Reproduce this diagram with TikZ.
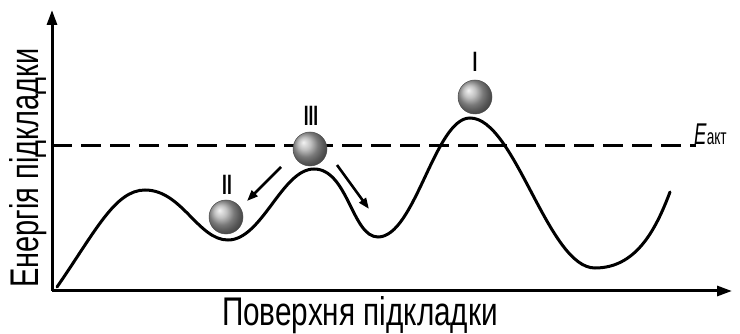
\documentclass[tikz,border=0pt]{standalone}
\usepackage{fontspec}
\setmainfont{Liberation Sans}[FakeStretch=0.62]
\newfontfamily\xlabfont{Liberation Sans}[FakeStretch=0.743]
\newfontfamily\ylabfont{Liberation Sans}[FakeStretch=0.725]
\usetikzlibrary{arrows.meta}
\begin{document}
\begin{tikzpicture}[x=1pt,y=-1pt,
  axis/.style={line width=3pt,-{Triangle[length=15pt,width=10pt]}},
  curve/.style={line width=3pt,line cap=round},
  dashline/.style={line width=3pt,dash pattern=on 20pt off 9pt},
  ball/.style={circle,minimum size=34pt,inner sep=0pt,shading=ball,ball color=gray!65,draw=black!70,line width=0.5pt},
  mv/.style={line width=2.6pt,-{Triangle[length=11pt,width=8pt]}},
  lbl/.style={font=\fontsize{28}{28}\selectfont\bfseries,inner sep=0pt},
  xbig/.style={font=\fontsize{40}{40}\selectfont\xlabfont,inner sep=0pt,anchor=base},
  ybig/.style={font=\fontsize{40}{40}\selectfont\ylabfont,inner sep=0pt,anchor=base,rotate=90}]
\useasboundingbox (0,0) rectangle (740,334);
\coordinate (o) at (52,291);
\coordinate (ytop) at (52,10);
\coordinate (xend) at (732,291);
\draw[axis] (o) -- (ytop);
\draw[axis] (o) -- (xend);
\coordinate (d0) at (52,146);
\coordinate (d1) at (696,146);
\draw[dashline] (d0) -- (d1);
\node[anchor=base west,inner sep=0pt] (eakt) at (694,145) {\fontsize{30}{30}\selectfont\textit{E}\fontsize{22}{22}\selectfont акт};
\draw[curve] (57,287) .. controls (95,232) and (115,190) .. (145,190)
  .. controls (182,190) and (198,240) .. (228,240)
  .. controls (262,240) and (282,169) .. (314,169)
  .. controls (348,169) and (352,237) .. (378,237)
  .. controls (415,237) and (435,118) .. (470,118)
  .. controls (515,118) and (548,268) .. (595,268)
  .. controls (635,268) and (655,232) .. (670,192);
\node[ball] (b1) at (475,97) {};
\node[ball] (b3) at (310,149) {};
\node[ball] (b2) at (226,217) {};
\node[lbl] (l1) at (475,62) {I};
\node[lbl] (l3) at (311,116) {III};
\node[lbl] (l2) at (227,185) {II};
\coordinate (a1s) at (281,167);
\coordinate (a1e) at (247,201);
\coordinate (a2s) at (337,165);
\coordinate (a2e) at (369,209);
\draw[mv] (a1s) -- (a1e);
\draw[mv] (a2s) -- (a2e);
\node[ybig] (ylab) at (38,168) {Енергія підкладки};
\node[xbig] (xlab) at (360,325) {Поверхня підкладки};
\end{tikzpicture}
\end{document}
